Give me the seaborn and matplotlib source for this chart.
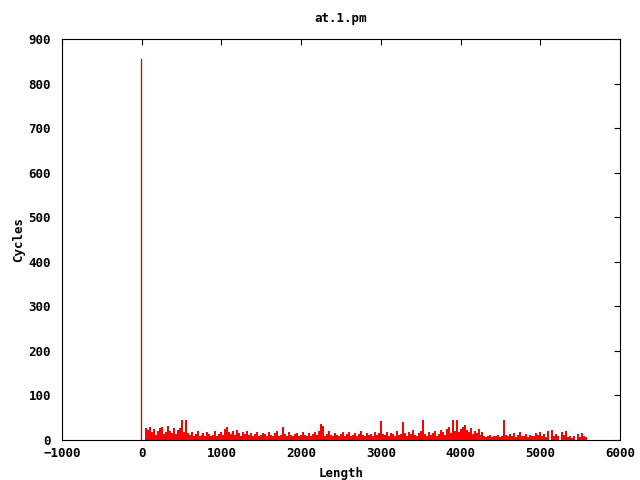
import numpy as np
import pandas as pd
import matplotlib
matplotlib.use("Agg")
import matplotlib.pyplot as plt
import seaborn as sns

# Big spike near length 0
spike_length = [-5]
spike_cycles = [855]

# Bulk of the data: one value every 25 length units, starting at 50
start_length = 50
step = 25
cycles = [
    28, 22, 30, 18, 24, 12, 20, 26, 30, 14, 18, 32, 20, 16, 26, 14, 22, 28, 44, 18,
    45, 16, 12, 18, 10, 14, 20, 8, 12, 16, 10, 18, 14, 8, 12, 20, 10, 14, 18, 12,
    24, 30, 18, 14, 20, 12, 22, 16, 10, 18, 14, 20, 12, 16, 10, 14, 18, 8, 12, 16,
    14, 10, 18, 12, 8, 16, 20, 10, 12, 30, 14, 10, 18, 12, 8, 14, 16, 10, 12, 18,
    12, 8, 16, 10, 14, 18, 12, 20, 36, 32, 10, 14, 20, 12, 8, 16, 12, 10, 14, 18,
    10, 14, 18, 8, 12, 16, 10, 14, 20, 12, 8, 16, 12, 14, 10, 18, 12, 16, 42, 14,
    12, 18, 10, 16, 14, 8, 20, 12, 14, 40, 16, 10, 18, 14, 22, 12, 10, 16, 20, 46,
    14, 10, 18, 12, 16, 20, 10, 14, 22, 18, 12, 24, 30, 16, 45, 20, 44, 18, 24, 30,
    34, 22, 18, 26, 14, 20, 16, 24, 12, 18, 10, 6, 8, 12, 6, 10, 8, 12, 6, 10,
    44, 12, 8, 14, 10, 16, 6, 12, 18, 8, 10, 14, 6, 12, 8, 10, 16, 12, 18, 8,
    14, 6, 20, 0, 22, 8, 14, 10, 0, 18, 12, 20, 6, 10, 4, 8, 0, 14, 6, 16,
    10, 6,
]
lengths = [start_length + i * step for i in range(len(cycles))]

x_ticks = [-1000, 0, 1000, 2000, 3000, 4000, 5000, 6000]
y_ticks = [0, 100, 200, 300, 400, 500, 600, 700, 800, 900]

df = pd.DataFrame({"Length": lengths, "Cycles": cycles})
spike = pd.DataFrame({"Length": spike_length, "Cycles": spike_cycles})

sns.set_style("white")
plt.rcParams["font.family"] = ["DejaVu Sans Mono"]
plt.rcParams["font.weight"] = "bold"
plt.rcParams["text.color"] = "black"
plt.rcParams["axes.labelcolor"] = "black"
plt.rcParams["xtick.color"] = "black"
plt.rcParams["ytick.color"] = "black"

fig, ax = plt.subplots(figsize=(6.4, 4.8), dpi=100)
fig.subplots_adjust(left=62 / 640, right=620 / 640, top=1 - 39 / 480, bottom=1 - 440 / 480)

sns.histplot(data=df, x="Length", weights="Cycles", binwidth=step,
             binrange=(start_length - step / 2, lengths[-1] + step / 2),
             color="#ff0000", element="bars", linewidth=0, edgecolor="#ff0000",
             alpha=1, ax=ax)
sns.histplot(data=spike, x="Length", weights="Cycles", binwidth=10, binrange=(-10, 0),
             color="#d00000", element="bars", linewidth=0.2, edgecolor="#d00000",
             alpha=1, ax=ax)

ax.set_xlim(-1000, 6000)
ax.set_ylim(0, 900)
ax.set_xticks(x_ticks)
ax.set_yticks(y_ticks)
ax.tick_params(direction="in", length=4, top=True, right=True, labelsize=9, width=0.8)
ax.tick_params(axis="x", pad=5)
ax.tick_params(axis="y", pad=8)
for lab in ax.get_xticklabels() + ax.get_yticklabels():
    lab.set_fontweight("bold")
for s in ax.spines.values():
    s.set_color("black")
    s.set_linewidth(0.8)

ax.set_title("at.1.pm", fontsize=9, fontweight="bold", pad=12)
ax.set_xlabel("Length", fontsize=9, fontweight="bold", labelpad=5)
ax.set_ylabel("Cycles", fontsize=9, fontweight="bold", labelpad=2)

fig.savefig("out.png", dpi=100)
